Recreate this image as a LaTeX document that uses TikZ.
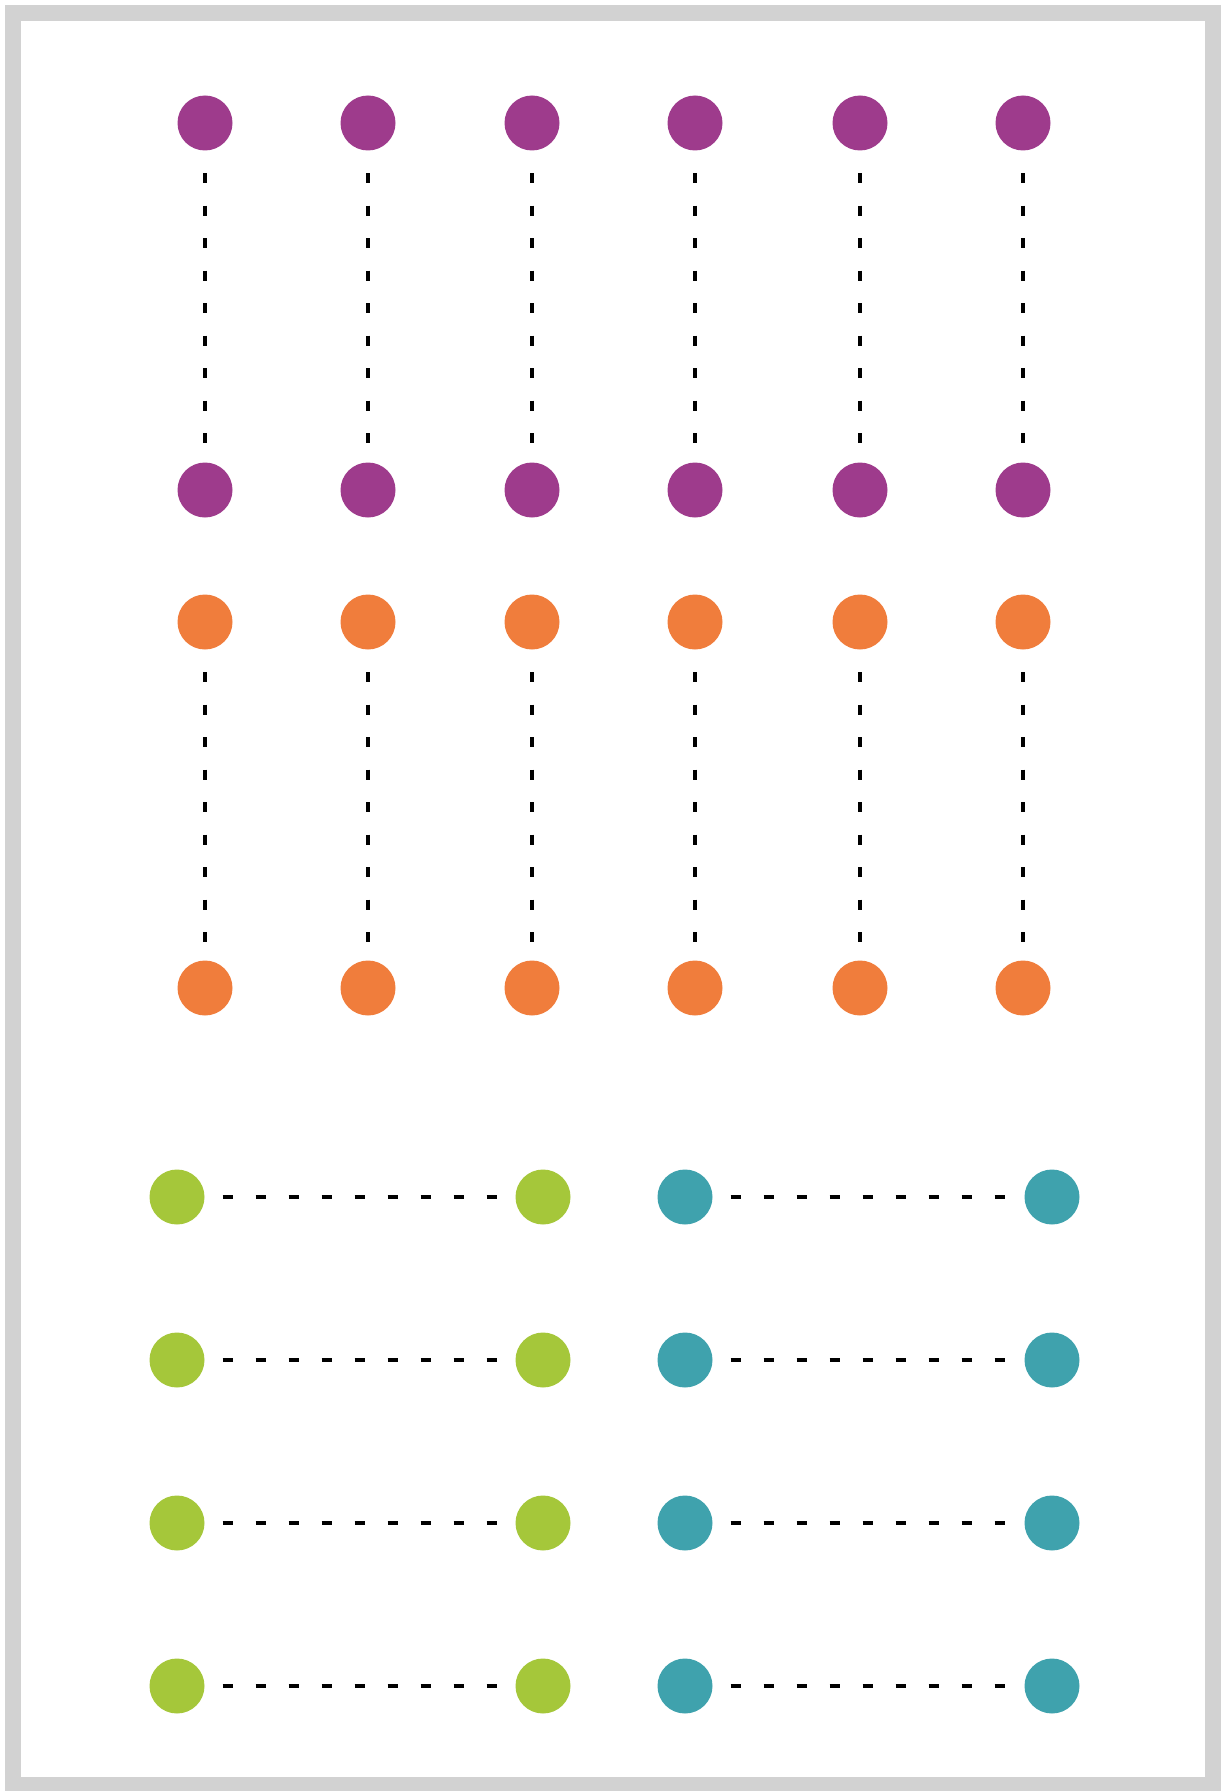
\documentclass[tikz,border=0pt]{standalone}
\usepackage{xcolor}
\usepackage{tikz}

\definecolor{framegray}{HTML}{D2D2D2}
\definecolor{dotpurple}{HTML}{9E3B8C}
\definecolor{dotorange}{HTML}{F07D3C}
\definecolor{dotgreen}{HTML}{A5C73A}
\definecolor{dotteal}{HTML}{3FA2AD}

\tikzset{
    dot/.style={circle, fill=#1, inner sep=0pt, minimum size=5.5mm},
    vdots/.style={line width=1.2pt, dash pattern=on 1mm off 2.25mm, shorten <=2.2mm, shorten >=1.5mm},
    hdots/.style={line width=1.2pt, dash pattern=on 1mm off 2.3mm, shorten <=1.75mm, shorten >=1.5mm}
}

\begin{document}
\begin{tikzpicture}[x=0.1mm, y=-0.1mm]
    \useasboundingbox (0,0) rectangle (1224,1791);

    % Draw frame
    \draw[framegray, line width=1.6mm] (13,13) rectangle (1213,1785);

    % Purple and orange columns
    \foreach \i/\x in {1/205, 2/368, 3/532, 4/695, 5/860, 6/1023} {
        \node[dot=dotpurple] (pt\i) at (\x,123) {};
        \node[dot=dotpurple] (pb\i) at (\x,490) {};
        \draw[vdots] (pt\i) -- (pb\i);
        \node[dot=dotorange] (ot\i) at (\x,622) {};
        \node[dot=dotorange] (ob\i) at (\x,988) {};
        \draw[vdots] (ot\i) -- (ob\i);
    }

    % Green and teal rows
    \foreach \j/\y in {1/1197, 2/1360, 3/1523, 4/1686} {
        \node[dot=dotgreen] (gl\j) at (177,\y) {};
        \node[dot=dotgreen] (gr\j) at (543,\y) {};
        \draw[hdots] (gl\j) -- (gr\j);
        \node[dot=dotteal] (tl\j) at (685,\y) {};
        \node[dot=dotteal] (tr\j) at (1052,\y) {};
        \draw[hdots] (tl\j) -- (tr\j);
    }

\end{tikzpicture}
\end{document}
